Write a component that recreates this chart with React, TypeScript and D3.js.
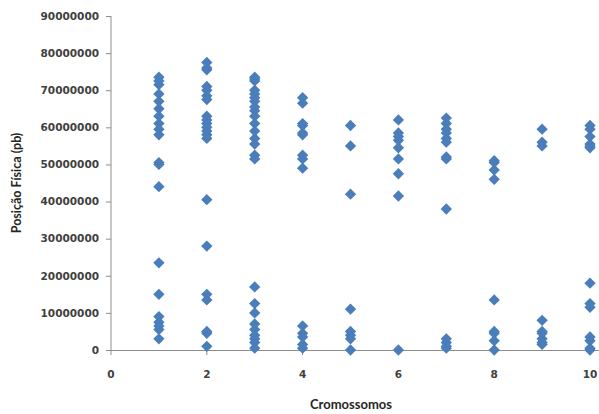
import React from 'react';
import * as d3 from 'd3';

// chromosome number for each group of markers
const chromosomes = [1, 2, 3, 4, 5, 6, 7, 8, 9, 10];

// physical positions (Mb), one list per chromosome
const chr1 = [73.5, 72.5, 71.5, 69, 67, 65, 63, 61, 59.5, 58, 50.5, 50, 44, 23.5, 15, 9, 7.5, 6.5, 5.5, 3];
const chr2 = [77.5, 76, 75.5, 71, 70, 68.5, 67.5, 63, 62, 61, 60, 59, 58, 57, 40.5, 28, 15, 13.5, 5, 4.5, 1];
const chr3 = [73.5, 73, 72.5, 70, 69, 68, 67, 65.5, 64.5, 63, 61, 59, 57, 55.5, 52.5, 51.5, 17, 12.5, 10, 7, 5.5, 4, 3, 2, 0.5];
const chr4 = [68, 66.5, 61, 60.5, 58.5, 58, 52.5, 51.5, 49, 6.5, 4.5, 3.5, 1.5, 0.5];
const chr5 = [60.5, 55, 42, 11, 5, 4, 3, 0];
const chr6 = [62, 58.5, 57.5, 56.5, 54.5, 51.5, 47.5, 41.5, 0];
const chr7 = [62.5, 61, 59.5, 58.5, 57, 56, 52, 51.5, 38, 3, 2, 1, 0.5];
const chr8 = [51, 50.5, 48.5, 46, 13.5, 5, 4.5, 2.5, 0];
const chr9 = [59.5, 56, 55, 8, 5, 4.5, 3, 2, 1.5];
const chr10 = [60.5, 59.5, 57.5, 55.5, 55, 54.5, 18, 12.5, 11.5, 3.5, 2.5, 0.5, 0];

const positions = [chr1, chr2, chr3, chr4, chr5, chr6, chr7, chr8, chr9, chr10];

const xTicks = [0, 2, 4, 6, 8, 10];
const yTicks = [0, 10000000, 20000000, 30000000, 40000000, 50000000, 60000000, 70000000, 80000000, 90000000];

const width = 599;
const height = 414;

const App = () => {
  const x = d3.scaleLinear().domain([0, 10]).range([111, 590]);
  const y = d3.scaleLinear().domain([0, 90000000]).range([350, 16]);

  const points = chromosomes.flatMap((c, i) =>
    positions[i].map((mb) => ({ c, v: mb * 1000000 }))
  );

  // excel style diamond = a square turned by 45 degrees
  const diamond = d3.symbol().type(d3.symbolSquare).size(64)();

  const axisColor = '#8c8c8c';
  const textColor = '#404040';

  return (
    <svg
      width={width}
      height={height}
      style={{ position: 'absolute', left: 0, top: 0, background: '#fff' }}
    >
      <g className="y-axis">
        <line x1={x(0)} x2={x(0)} y1={y(0)} y2={y(90000000)} stroke={axisColor} />
        {yTicks.map((t) => (
          <g key={t}>
            <line x1={x(0) - 5} x2={x(0)} y1={y(t) + 0.5} y2={y(t) + 0.5} stroke={axisColor} />
            <text
              x={x(0) - 12}
              y={y(t)}
              dy="0.36em"
              textAnchor="end"
              fontFamily="DejaVu Sans"
              fontWeight="bold"
              fontSize={10.5}
              fill={textColor}
            >
              {t}
            </text>
          </g>
        ))}
      </g>

      <g className="x-axis">
        <line x1={x(0)} x2={599} y1={y(0) + 0.5} y2={y(0) + 0.5} stroke={axisColor} />
        {xTicks.map((t) => (
          <g key={t}>
            <line x1={x(t)} x2={x(t)} y1={y(0)} y2={y(0) + 5} stroke={axisColor} />
            <text
              x={x(t)}
              y={y(0) + 28}
              textAnchor="middle"
              fontFamily="DejaVu Sans"
              fontWeight="bold"
              fontSize={10.5}
              fill={textColor}
            >
              {t}
            </text>
          </g>
        ))}
      </g>

      <g className="plot-area" fill="#4a7ebb">
        {points.map((p, i) => (
          <path
            key={i}
            d={diamond}
            transform={`translate(${x(p.c)},${y(p.v)}) rotate(45)`}
          />
        ))}
      </g>

      <text
        x={351}
        y={409}
        textAnchor="middle"
        fontFamily="Lato"
        fontWeight="bold"
        fontSize={13}
        fill="#262626"
      >
        Cromossomos
      </text>
      <text
        transform={`translate(21,183) rotate(-90)`}
        textAnchor="middle"
        fontFamily="Lato"
        fontWeight="bold"
        fontSize={12.5}
        fill="#262626"
      >
        Posição Física (pb)
      </text>
    </svg>
  );
};

export default App;
